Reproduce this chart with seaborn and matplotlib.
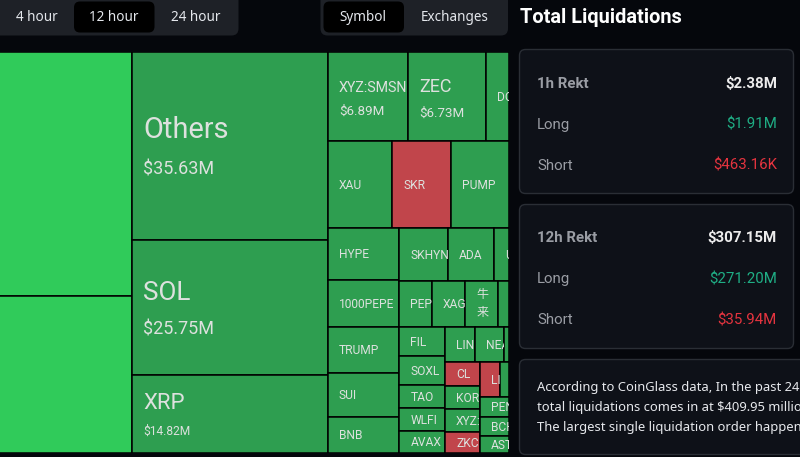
import numpy as np
import pandas as pd
import seaborn as sns
import matplotlib
matplotlib.use("Agg")
import matplotlib.pyplot as plt
from matplotlib.patches import Rectangle, FancyBboxPatch
from matplotlib.transforms import Bbox, TransformedBbox

# ---------------- data ----------------
symbols = ["BTC", "ETH", "Others", "SOL", "XRP",
           "XYZ:SMSN", "ZEC", "DOGE", "XAU", "SKR", "PUMP",
           "HYPE", "1000PEPE", "TRUMP", "SUI", "BNB",
           "SKHYNIX", "ADA", "UNI", "PEPE", "XAG", "牛来", "LTC",
           "FIL", "SOXL", "TAO", "WLFI", "AVAX",
           "LINK", "NEAR", "ETC", "CL", "KORU", "XYZ:NVDA", "ZKC",
           "LIT", "OP", "PENGU", "BCH", "ASTER"]
liq_musd = [97.70, 62.90, 35.63, 25.75, 14.82,
            6.89, 6.73, 2.00, 5.45, 4.98, 4.87,
            3.60, 3.26, 3.19, 3.05, 2.50,
            2.50, 2.35, 0.78, 1.45, 1.49, 1.45, 0.50,
            1.28, 1.28, 1.02, 1.02, 0.98,
            1.00, 1.00, 0.17, 0.80, 0.77, 0.77, 0.70,
            0.69, 0.31, 0.57, 0.54, 0.48]
dominant = ["long+", "long+", "long", "long", "long",
            "long", "long", "long", "long", "short", "long",
            "long", "long", "long", "long", "long",
            "long", "long", "long", "long", "long", "long", "long",
            "long", "long", "long", "long", "long",
            "long", "long", "long", "short", "long", "long", "short",
            "short", "long", "long", "long", "long"]

# nesting of the treemap (h = split left->right, v = split top->bottom)
tree = ("h", [
    ("v", ["BTC", "ETH"]),
    ("v", ["Others", "SOL", "XRP"]),
    ("v", [
        ("h", ["XYZ:SMSN", "ZEC", "DOGE"]),
        ("h", ["XAU", "SKR", "PUMP"]),
        ("h", [
            ("v", ["HYPE", "1000PEPE", "TRUMP", "SUI", "BNB"]),
            ("v", [
                ("h", ["SKHYNIX", "ADA", "UNI"]),
                ("h", ["PEPE", "XAG", "牛来", "LTC"]),
                ("h", [
                    ("v", ["FIL", "SOXL", "TAO", "WLFI", "AVAX"]),
                    ("v", [
                        ("h", ["LINK", "NEAR", "ETC"]),
                        ("h", [
                            ("v", ["CL", "KORU", "XYZ:NVDA", "ZKC"]),
                            ("v", [
                                ("h", ["LIT", "OP"]),
                                ("v", ["PENGU", "BCH", "ASTER"]),
                            ]),
                        ]),
                    ]),
                ]),
            ]),
        ]),
    ]),
])

time_options = ["4 hour", "12 hour", "24 hour"]
time_selected = "12 hour"
view_options = ["Symbol", "Exchanges"]
view_selected = "Symbol"

rekt_periods = ["1h Rekt", "12h Rekt"]
rekt_total = [2.38, 307.15]
rekt_long = [1.91, 271.20]
rekt_short = [0.46316, 35.94]

summary_lines = ["According to CoinGlass data, In the past 24 hours,",
                 "total liquidations comes in at $409.95 million,",
                 "The largest single liquidation order happened on"]

df = pd.DataFrame({"symbol": symbols, "value": liq_musd, "side": dominant})
val = dict(zip(df.symbol, df.value))
side = dict(zip(df.symbol, df.side))

# ---------------- style ----------------
sns.set_theme(style="dark")
BG = "#05070c"
plt.rcParams["font.family"] = ["Roboto", "Noto Sans CJK SC", "DejaVu Sans"]
colors = {"long+": "#30cb5a", "long": "#2e9e50", "short": "#c1454b"}
TXT = "#dde1de"

W, H = 800, 457
fig = plt.figure(figsize=(8, 4.57), dpi=100, facecolor=BG)
PT = 0.72  # px -> pt


def fmt_money(v):
    return f"${v*1000:.2f}K" if v < 1 else f"${v:.2f}M"


def node_sum(node):
    if isinstance(node, str):
        return val[node]
    return sum(node_sum(c) for c in node[1])


def layout(node, x, y, w, h, out):
    if isinstance(node, str):
        out[node] = (x, y, w, h)
        return
    d, kids = node
    tot = node_sum(node)
    for k in kids:
        f = node_sum(k) / tot
        if d == "h":
            layout(k, x, y, w * f, h, out)
            x += w * f
        else:
            layout(k, x, y, w, h * f, out)
            y += h * f


# treemap axes: full map is 790x401 px, its left part lies outside the picture
TW, TH = 790, 401
TX0, TY0 = -281, 52
axt = fig.add_axes([TX0 / W, (H - TY0 - TH) / H, TW / W, TH / H])
axt.set_xlim(0, TW)
axt.set_ylim(TH, 0)
axt.axis("off")

rects = {}
layout(tree, 0, 0, TW, TH, rects)
renderer = fig.canvas.get_renderer()
PAD = 11


def clip_to(t, x, y, w, h):
    t.set_clip_on(True)
    t.set_clip_box(TransformedBbox(Bbox.from_bounds(x, y, w, h), axt.transData))


for s in df.symbol:
    x, y, w, h = rects[s]
    v = val[s]
    r = Rectangle((x, y), w, h, facecolor=colors[side[s]], edgecolor="#000000",
                  linewidth=1.1)
    axt.add_patch(r)
    cy = y + h / 2
    if v >= 6:
        npx = 9.5 + 3.27 * np.sqrt(v)
        vpx = float(np.clip(0.15 * h, 12, 18))
        t = axt.text(x + PAD, 0, s, fontsize=npx * PT, color=TXT)
        bb = t.get_window_extent(renderer)
        if bb.width > w - PAD:
            npx *= (w - PAD) / bb.width
            t.set_fontsize(npx * PT)
        gap = 0.85 * (npx + vpx)
        c = cy + 2
        t.set_y(c - gap / 2 + 0.355 * npx)
        t.set_va("baseline")
        clip_to(t, x, y, w, h)
        tv = axt.text(x + PAD, c + gap / 2 + 0.355 * vpx, fmt_money(v),
                      fontsize=vpx * PT, color=TXT, va="baseline")
        clip_to(tv, x, y, w, h)
    else:
        npx = 12
        label = s
        if not s.isascii() and len(s) * npx > w - 2 * PAD:
            label = "\n".join(s)
            t = axt.text(x + PAD, cy - 1, label, fontsize=npx * PT, color=TXT,
                         va="center", linespacing=1.5)
        else:
            t = axt.text(x + PAD, cy + 0.355 * npx, label, fontsize=npx * PT,
                         color=TXT, va="baseline")
        clip_to(t, x, y, w, h)

# ---------------- UI overlay ----------------
axu = fig.add_axes([0, 0, 1, 1])
axu.set_xlim(0, W)
axu.set_ylim(H, 0)
axu.axis("off")
axu.patch.set_alpha(0)


def rbox(x0, y0, x1, y1, fc, ec="none", r=6, lw=1.0):
    p = FancyBboxPatch((x0, y0), x1 - x0, y1 - y0,
                       boxstyle=f"round,pad=0,rounding_size={r}",
                       facecolor=fc, edgecolor=ec, linewidth=lw)
    axu.add_patch(p)
    return p


UIF = ["Noto Sans", "DejaVu Sans"]
RB = ["Roboto", "DejaVu Sans"]
# time selector
rbox(-12, -12, 238.5, 35.5, "#1e2127", r=7)
time_x = [36.5, 114, 195.5]
for lab, xc in zip(time_options, time_x):
    if lab == time_selected:
        rbox(74, 1.5, 154.5, 32.5, "#000000", r=6)
    axu.text(xc, 17.5, lab, ha="center", va="center", fontsize=13.5 * PT,
             color="#e4e7ec", family=UIF)
# view selector
rbox(320.5, -12, 508, 35.5, "#1e2127", r=7)
view_x = [363, 455]
for lab, xc in zip(view_options, view_x):
    if lab == view_selected:
        rbox(323.5, 1.5, 404, 32.5, "#000000", r=6)
    axu.text(xc, 17.5, lab, ha="center", va="center", fontsize=13.5 * PT,
             color="#e4e7ec", family=UIF)

# right panel
axu.text(520, 22.8, "Total Liquidations", fontsize=20 * PT, fontweight="bold",
         color="#ffffff", va="baseline", family=RB)
card_tops = [49.5, 204.5]
CARD_FC, CARD_EC = "#0e1118", "#2a2e35"
for i, top in enumerate(card_tops):
    rbox(519.5, top, 793.5, top + 144, CARD_FC, CARD_EC, r=6)
    rows = [(rekt_periods[i], "#9a9da4", fmt_money(rekt_total[i]), "#ececec", "bold"),
            ("Long", "#9a9da4", fmt_money(rekt_long[i]), "#1fae85", "normal"),
            ("Short", "#9a9da4", fmt_money(rekt_short[i]), "#e5343f", "normal")]
    for j, (lab, lc, vtxt, vc, fw) in enumerate(rows):
        yc = top + 34 + j * 41
        axu.text(537, yc, lab, color=lc, fontsize=15 * PT, va="center",
                 fontweight=fw, family=RB)
        axu.text(777, yc, vtxt, color=vc, fontsize=15 * PT, va="center",
                 ha="right", fontweight=fw, family=RB)

rbox(519.5, 359.5, 830, 454.5, CARD_FC, CARD_EC, r=6)
for k, line in enumerate(summary_lines):
    axu.text(537, 387 + k * 20.5, line, color="#e6e8ec", fontsize=13 * PT,
             va="center", family=UIF)

fig.savefig("out.png", dpi=100, facecolor=BG)
